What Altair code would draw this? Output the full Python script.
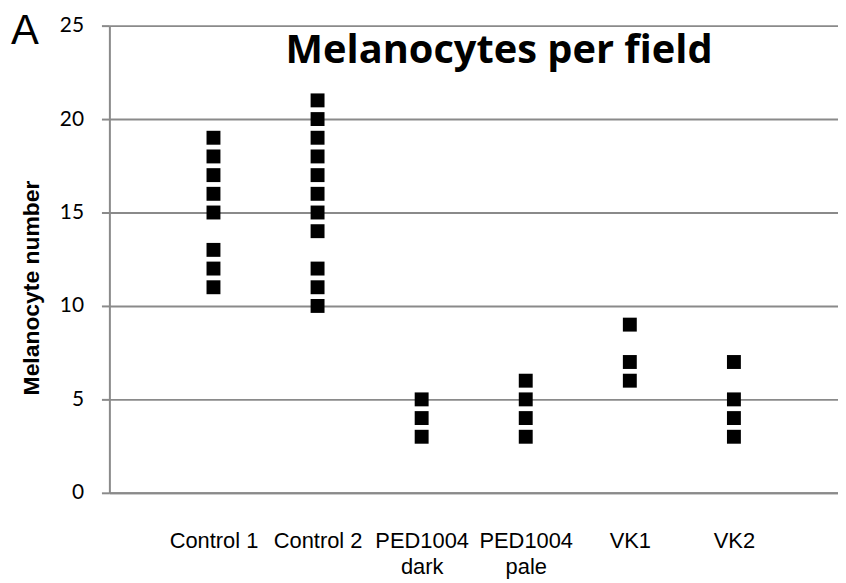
import altair as alt
import pandas as pd

# ---- data ----
categories = ["Control 1", "Control 2", "PED1004 dark", "PED1004 pale", "VK1", "VK2"]
control_1 = [19, 18, 17, 16, 15, 13, 12, 11]
control_2 = [21, 20, 19, 18, 17, 16, 15, 14, 12, 11, 10]
ped1004_dark = [5, 4, 3]
ped1004_pale = [6, 5, 4, 3]
vk1 = [9, 7, 6]
vk2 = [7, 5, 4, 3]
y_ticks = [0, 5, 10, 15, 20, 25]
chart_title = "Melanocytes per field"
panel_letter = "A"
y_title = "Melanocyte number"

series = [control_1, control_2, ped1004_dark, ped1004_pale, vk1, vk2]
df = pd.DataFrame(
    [{"group": c, "value": v} for c, vals in zip(categories, series) for v in vals]
)

GRAY = "#8a8a8a"

points = alt.Chart(df).mark_square(size=196, color="black", opacity=1).encode(
    x=alt.X(
        "group:N",
        sort=categories,
        scale=alt.Scale(type="point", padding=1),
        axis=alt.Axis(
            title=None,
            labelAngle=0,
            ticks=False,
            tickSize=0,
            grid=False,
            domainColor=GRAY,
            domainWidth=2,
            labelFont="Liberation Sans",
            labelFontSize=22,
            labelColor="black",
            labelPadding=38,
            labelLineHeight=26,
            labelOverlap=False,
            labelBound=False,
            labelExpr="indexof(datum.label, 'PED') == 0 ? split(datum.label, ' ') : datum.label",
        ),
    ),
    y=alt.Y(
        "value:Q",
        scale=alt.Scale(domain=[0, 25], nice=False),
        axis=alt.Axis(
            values=y_ticks,
            title=y_title,
            titleFont="Liberation Sans",
            titleFontSize=23,
            titleFontWeight="bold",
            titleColor="black",
            titleX=-71,
            titleY=263.5,
            titleAlign="center",
            titleBaseline="alphabetic",
            titleAngle=270,
            grid=True,
            gridColor=GRAY,
            gridWidth=2,
            domainColor=GRAY,
            domainWidth=2,
            tickColor=GRAY,
            tickWidth=2,
            tickSize=8,
            labelFont="Lato",
            labelFontSize=21,
            labelColor="black",
            labelPadding=18,
        ),
    ),
)

title_layer = alt.Chart(pd.DataFrame({"t": [chart_title]})).mark_text(
    font="Open Sans", fontWeight="bold", fontSize=40, align="center",
    baseline="alphabetic", color="black"
).encode(text="t:N", x=alt.value(392), y=alt.value(38))

letter_layer = alt.Chart(pd.DataFrame({"t": [panel_letter]})).mark_text(
    font="Liberation Sans", fontSize=42, align="left",
    baseline="alphabetic", color="black"
).encode(text="t:N", x=alt.value(-99), y=alt.value(18))

chart = alt.layer(points, title_layer, letter_layer).properties(
    width=733,
    height=470,
    autosize=alt.AutoSizeParams(type="none"),
    padding={"left": 102, "top": 16, "right": 0, "bottom": 90},
    background="white",
).configure_view(stroke=None)

chart.save("out.html", embed_options={"renderer": "svg", "actions": False})
